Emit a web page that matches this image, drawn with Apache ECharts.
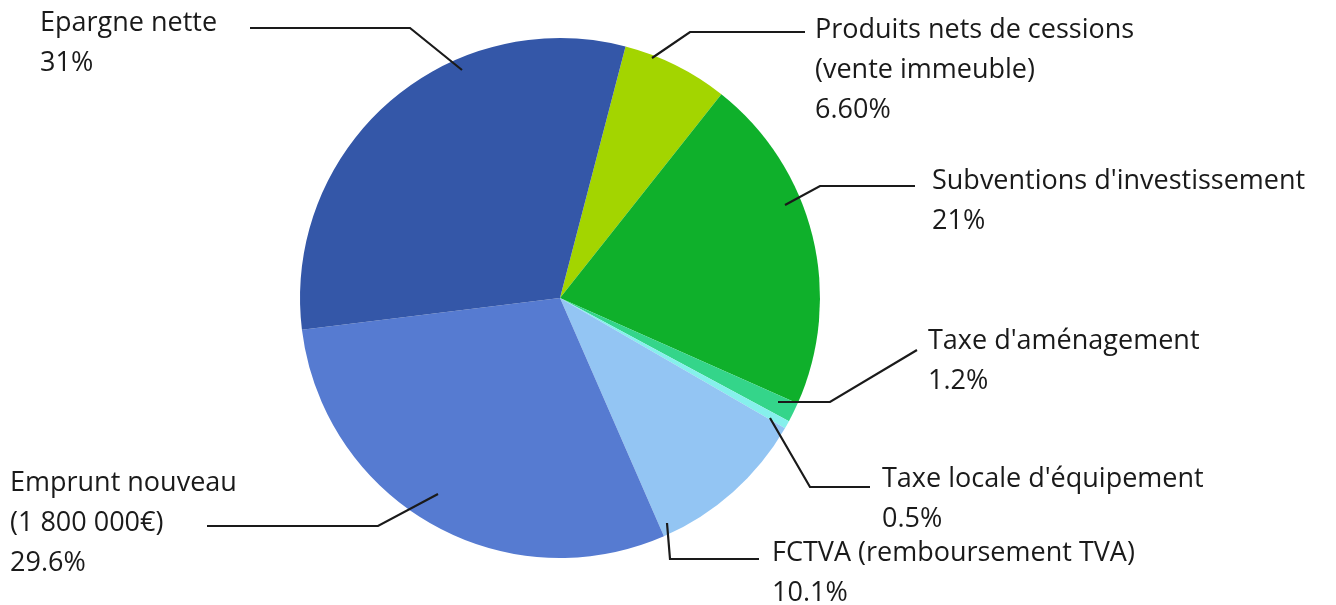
<!DOCTYPE html>
<html>
<head>
<meta charset="utf-8">
<script src="https://cdn.jsdelivr.net/npm/echarts@6/dist/echarts.min.js"></script>
<style>
  html, body { margin: 0; padding: 0; background: #fff; }
  #chart { width: 1336px; height: 605px; }
</style>
</head>
<body>
<div id="chart"></div>
<script>
// slices, clockwise from just right of 12 o'clock
const names = [
  'Produits nets de cessions\n(vente immeuble)',
  "Subventions d'investissement",
  "Taxe d'aménagement",
  "Taxe locale d'équipement",
  'FCTVA (remboursement TVA)',
  'Emprunt nouveau\n(1 800 000€)',
  'Epargne nette'
];
const values = [6.6, 21, 1.2, 0.5, 10.1, 29.6, 31];
const pctLabels = ['6.60%', '21%', '1.2%', '0.5%', '10.1%', '29.6%', '31%'];
const colors = ['#A3D500', '#0FB02B', '#34D58A', '#86F0EC', '#93C5F3', '#567BD1', '#3457A8'];

// label placement (text top-left + leader line points), Excel style
const labelPos = [
  { x: 815, y: 10, line: [[652, 58], [690, 32], [805, 32]] },
  { x: 932, y: 161, line: [[785, 205], [820, 186], [915, 186]] },
  { x: 928, y: 321, line: [[778, 402], [830, 402], [917, 350]] },
  { x: 882, y: 459, line: [[770, 418], [810, 487], [870, 487]] },
  { x: 772, y: 533, line: [[667, 523], [670, 559], [759, 559]] },
  { x: 10, y: 463, line: [[438, 494], [378, 526], [207, 526]] },
  { x: 40, y: 3, line: [[462, 70], [410, 28], [250, 28]] }
];

const chart = echarts.init(document.getElementById('chart'));

const pieBase = {
  type: 'pie',
  center: [560, 298],
  radius: 260,
  startAngle: 75.4,
  clockwise: true,
  avoidLabelOverlap: false,
  data: values.map((v, i) => ({ name: names[i], value: v }))
};

const option = {
  animation: false,
  series: [
    Object.assign({}, pieBase, {
      color: colors,
      itemStyle: { borderWidth: 0 },
      label: { show: false },
      labelLine: { show: false }
    }),
    // transparent copy on top so the leader lines run over the slices
    Object.assign({}, pieBase, {
      z: 5,
      silent: true,
      itemStyle: { color: 'rgba(0,0,0,0)', borderWidth: 0 },
      label: {
        show: true,
        position: 'outside',
        fontFamily: 'Open Sans',
        fontSize: 27,
        lineHeight: 40,
        color: '#1a1a1a',
        formatter: p => names[p.dataIndex] + '\n' + pctLabels[p.dataIndex]
      },
      labelLine: {
        show: true,
        lineStyle: { color: '#1a1a1a', width: 2.2 }
      },
      labelLayout: params => {
        const l = labelPos[params.dataIndex];
        return {
          x: l.x,
          y: l.y,
          align: 'left',
          verticalAlign: 'top',
          labelLinePoints: l.line
        };
      }
    })
  ]
};

chart.setOption(option);
</script>
</body>
</html>
